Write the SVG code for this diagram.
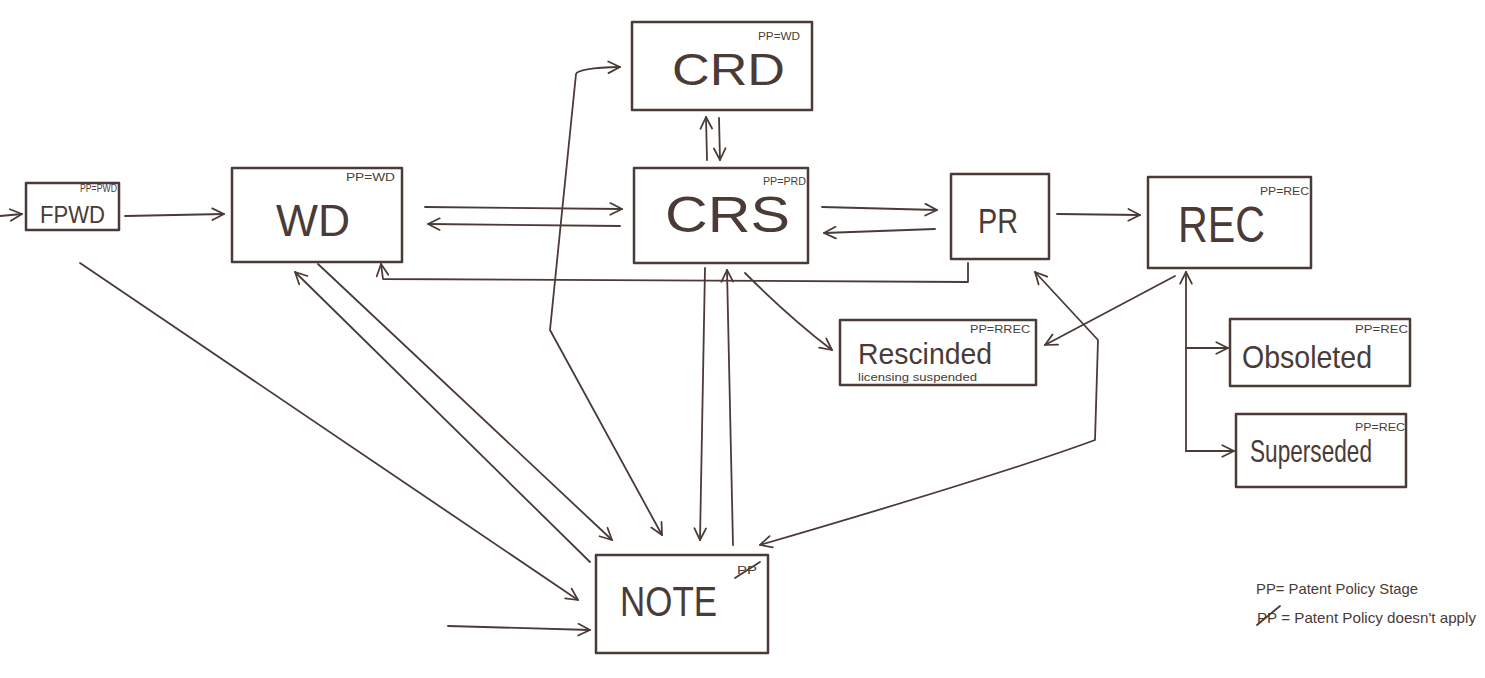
<svg xmlns="http://www.w3.org/2000/svg" width="1485" height="678" viewBox="0 0 1485 678">
<style>
.box{fill:none;stroke:#4a3b36;stroke-width:2.5;stroke-linejoin:round}
.c{fill:none;stroke:#4a3b36;stroke-width:1.8;stroke-linecap:round;stroke-linejoin:round}
.big{font-family:"Liberation Sans",Arial,sans-serif;fill:#4a3b36}
.sm{font-family:"Liberation Sans",Arial,sans-serif;fill:#4a3b36;font-size:10px}
</style>
<defs>
<marker id="a" viewBox="0 0 12 12" refX="11" refY="6" markerWidth="14" markerHeight="14" markerUnits="userSpaceOnUse" orient="auto-start-reverse">
<path d="M1,1 L11,6 L1,11" fill="none" stroke="#4a3b36" stroke-width="1.5" stroke-linecap="round" stroke-linejoin="round"/>
</marker>
</defs>
<rect width="1485" height="678" fill="#ffffff"/>

<g id="connectors">
<path class="c" d="M0,216 L22,214" marker-end="url(#a)"/>
<path class="c" d="M125,216 L224,214" marker-end="url(#a)"/>
<path class="c" d="M425,207 L622,209" marker-end="url(#a)"/>
<path class="c" d="M620,226 L428,224" marker-end="url(#a)"/>
<path class="c" d="M822,207 L937,210" marker-end="url(#a)"/>
<path class="c" d="M935,229 L824,233" marker-end="url(#a)"/>
<path class="c" d="M1057,214 L1140,215" marker-end="url(#a)"/>
<path class="c" d="M968,263 L968,282 L383,279 L381,264" marker-end="url(#a)"/>
<path class="c" d="M707,160 L706,117" marker-end="url(#a)"/>
<path class="c" d="M719,118 L720,160" marker-end="url(#a)"/>
<path class="c" d="M745,273 Q790,318 832,350" marker-end="url(#a)"/>
<path class="c" d="M1175,276 L1045,345" marker-end="url(#a)"/>
<path class="c" d="M1186,451 L1186,272" marker-end="url(#a)"/>
<path class="c" d="M1186,348 L1228,348" marker-end="url(#a)"/>
<path class="c" d="M1186,451 L1234,451" marker-end="url(#a)"/>
<path class="c" d="M80,263 L578,600" marker-end="url(#a)"/>
<path class="c" d="M590,562 L295,272" marker-end="url(#a)"/>
<path class="c" d="M318,264 L612,540" marker-end="url(#a)"/>
<path class="c" d="M448,626 L590,630" marker-end="url(#a)"/>
<path class="c" d="M662,535 L550,330 L576,74 Q578,68 620,67" marker-start="url(#a)" marker-end="url(#a)"/>
<path class="c" d="M705,268 L700,540" marker-end="url(#a)"/>
<path class="c" d="M733,545 L727,270" marker-end="url(#a)"/>
<path class="c" d="M760,545 Q1000,475 1095,440 L1098,340 L1035,272" marker-start="url(#a)" marker-end="url(#a)"/>
</g>

<g id="FPWD">
<rect class="box" x="26" y="183" width="93" height="47"/>
<text class="big" x="40" y="223" font-size="23" textLength="65" lengthAdjust="spacingAndGlyphs">FPWD</text>
<text class="sm" x="80" y="192" font-size="8" textLength="37" lengthAdjust="spacingAndGlyphs">PP=PWD</text>
</g>

<g id="WD">
<rect class="box" x="232" y="168" width="170" height="94"/>
<text class="big" x="276" y="236" font-size="44" textLength="74" lengthAdjust="spacingAndGlyphs">WD</text>
<text class="sm" x="346" y="181" textLength="49" lengthAdjust="spacingAndGlyphs">PP=WD</text>
</g>

<g id="CRD">
<rect class="box" x="632" y="22" width="180" height="88"/>
<text class="big" x="672" y="85" font-size="44" textLength="113" lengthAdjust="spacingAndGlyphs">CRD</text>
<text class="sm" x="758" y="40" textLength="42" lengthAdjust="spacingAndGlyphs">PP=WD</text>
</g>

<g id="CRS">
<rect class="box" x="634" y="168" width="174" height="95"/>
<text class="big" x="665" y="232" font-size="50" textLength="125" lengthAdjust="spacingAndGlyphs">CRS</text>
<text class="sm" x="763" y="185" textLength="43" lengthAdjust="spacingAndGlyphs">PP=PRD</text>
</g>

<g id="PR">
<rect class="box" x="951" y="174" width="98" height="85"/>
<text class="big" x="978" y="233" font-size="35" textLength="40" lengthAdjust="spacingAndGlyphs">PR</text>
</g>

<g id="REC">
<rect class="box" x="1148" y="177" width="163" height="91"/>
<text class="big" x="1178" y="242" font-size="50" textLength="87" lengthAdjust="spacingAndGlyphs">REC</text>
<text class="sm" x="1260" y="195" textLength="49" lengthAdjust="spacingAndGlyphs">PP=REC</text>
</g>

<g id="Rescinded">
<rect class="box" x="840" y="320" width="196" height="65"/>
<text class="big" x="858" y="364" font-size="30" textLength="134" lengthAdjust="spacingAndGlyphs">Rescinded</text>
<text class="sm" x="858" y="381" font-size="11" textLength="119" lengthAdjust="spacingAndGlyphs">licensing suspended</text>
<text class="sm" x="970" y="333" textLength="60" lengthAdjust="spacingAndGlyphs">PP=RREC</text>
</g>

<g id="Obsoleted">
<rect class="box" x="1230" y="319" width="180" height="67"/>
<text class="big" x="1242" y="368" font-size="32" textLength="130" lengthAdjust="spacingAndGlyphs">Obsoleted</text>
<text class="sm" x="1355" y="333" textLength="53" lengthAdjust="spacingAndGlyphs">PP=REC</text>
</g>

<g id="Superseded">
<rect class="box" x="1236" y="414" width="170" height="73"/>
<text class="big" x="1250" y="462" font-size="32" textLength="122" lengthAdjust="spacingAndGlyphs">Superseded</text>
<text class="sm" x="1355" y="431" textLength="50" lengthAdjust="spacingAndGlyphs">PP=REC</text>
</g>

<g id="NOTE">
<rect class="box" x="596" y="555" width="172" height="98"/>
<text class="big" x="620" y="616" font-size="42" textLength="97" lengthAdjust="spacingAndGlyphs">NOTE</text>
<text class="sm" x="737" y="574" font-size="12" textLength="20" lengthAdjust="spacingAndGlyphs">PP</text>
<line class="c" x1="735" y1="578" x2="760" y2="562"/>
</g>

<g id="legend">
<text class="big" x="1256" y="594" font-size="15" textLength="162" lengthAdjust="spacingAndGlyphs">PP= Patent Policy Stage</text>
<text class="big" x="1257" y="623" font-size="15" textLength="219" lengthAdjust="spacingAndGlyphs">PP = Patent Policy doesn't apply</text>
<line class="c" x1="1257" y1="625" x2="1280" y2="606"/>
</g>
</svg>
